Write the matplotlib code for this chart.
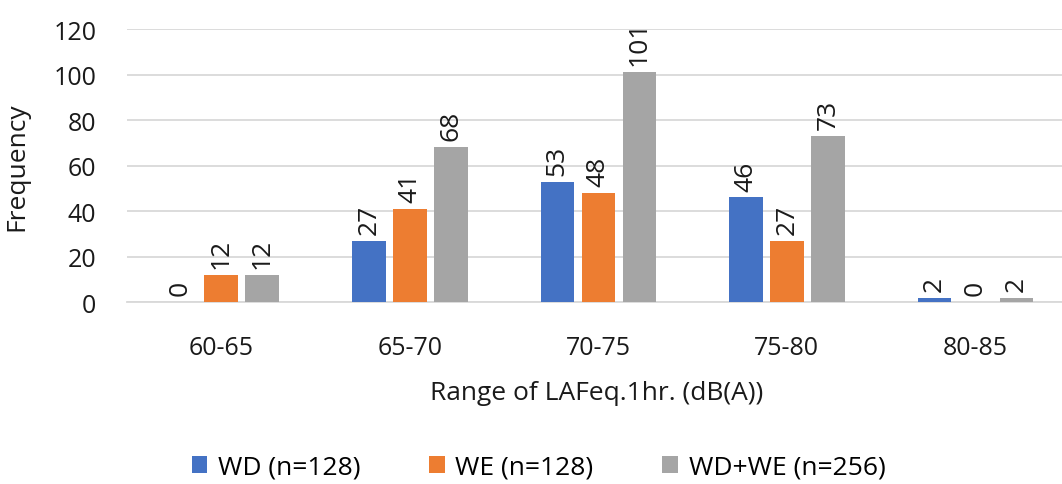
import numpy as np
import matplotlib as mpl
import matplotlib.pyplot as plt

mpl.rcParams['font.family'] = ['Open Sans', 'DejaVu Sans']

# data
ranges = ['60-65', '65-70', '70-75', '75-80', '80-85']
wd = [0, 27, 53, 46, 2]
we = [12, 41, 48, 27, 0]
wd_we = [12, 68, 101, 73, 2]
series_names = ['WD (n=128)', 'WE (n=128)', 'WD+WE (n=256)']
colors = ['#4472C4', '#ED7D31', '#A5A5A5']

txt = '#1a1a1a'

fig = plt.figure(figsize=(10.62, 4.85), dpi=100)
ax = fig.add_axes([0.1196, 0.375, 0.8804, 0.563])

x = np.arange(len(ranges))
step = 0.2175
width = 0.178
for i, (vals, name, c) in enumerate(zip([wd, we, wd_we], series_names, colors)):
    pos = x + (i - 1) * step
    ax.bar(pos, vals, width=width, color=c, label=name, zorder=3)
    for xp, v in zip(pos, vals):
        ax.annotate(str(v), (xp, v), xytext=(0, 5), textcoords='offset points',
                    rotation=90, ha='center', va='bottom', fontsize=19, color=txt)

ax.set_xlim(-0.5, 4.46)
ax.set_ylim(0, 120)
ax.set_yticks(range(0, 121, 20))
ax.set_xticks(x)
ax.set_xticklabels(ranges)
ax.grid(axis='y', color='#d9d9d9', linewidth=1.3, zorder=0)
for s in ['top', 'right', 'left']:
    ax.spines[s].set_visible(False)
ax.spines['bottom'].set_color('#d9d9d9')
ax.spines['bottom'].set_linewidth(1.3)
ax.tick_params(axis='both', length=0, labelsize=18, colors=txt)
ax.tick_params(axis='y', pad=22)
ax.tick_params(axis='x', pad=24)

ax.set_ylabel('Frequency', fontsize=19, color=txt)
ax.set_xlabel('Range of LAFeq.1hr. (dB(A))', fontsize=19, color=txt)
ax.yaxis.set_label_coords(-0.104, 0.5)
ax.xaxis.set_label_coords(0.502, -0.285)

fig.legend(loc='center', bbox_to_anchor=(0.507, 0.035), ncol=3, frameon=False,
           fontsize=19, handlelength=0.6, handleheight=0.6, handletextpad=0.4,
           columnspacing=2.6)

fig.savefig('out.png', dpi=100)
